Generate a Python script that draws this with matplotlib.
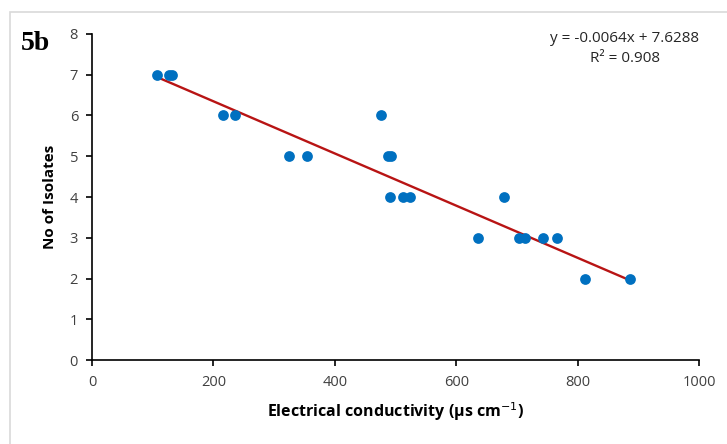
import numpy as np
import matplotlib.pyplot as plt
from matplotlib.patches import Rectangle

# values
conductivity = [107, 127, 132, 216, 236, 325, 354, 476, 488, 493, 491, 512, 524, 679,
                636, 703, 713, 743, 766, 812, 886]
isolates = [7, 7, 7, 6, 6, 5, 5, 6, 5, 5, 4, 4, 4, 4,
            3, 3, 3, 3, 3, 2, 2]
slope = -0.0064
intercept = 7.6288
r2 = 0.908

x_ticks = [0, 200, 400, 600, 800, 1000]
y_ticks = [0, 1, 2, 3, 4, 5, 6, 7, 8]

plt.rcParams['font.family'] = ['Open Sans', 'DejaVu Sans']

fig = plt.figure(figsize=(7.27, 4.44), dpi=100)
ax = fig.add_axes([0.1265, 0.189, 0.835, 0.7345])

# light frame round the whole chart
fig.patches.append(Rectangle((10 / 727, -0.01), 1.0, 1 - 12 / 444 + 0.01, transform=fig.transFigure,
                             fill=False, edgecolor='#d9d9d9', linewidth=1.2))

ax.scatter(conductivity, isolates, s=60, color='#0070c0', zorder=3, linewidths=0)

xs = np.array([min(conductivity), max(conductivity)])
ax.plot(xs, slope * xs + intercept, color='#b81414', linewidth=1.7, zorder=2)

ax.set_xlim(0, 1000)
ax.set_ylim(0, 8)
ax.set_xticks(x_ticks)
ax.set_yticks(y_ticks)
ax.tick_params(axis='both', direction='out', length=4, width=1.2, labelsize=10.5,
               labelcolor='#404040', color='black')
ax.tick_params(axis='x', pad=7)
ax.tick_params(axis='y', pad=6)

for side in ['top', 'right']:
  ax.spines[side].set_visible(False)
for side in ['left', 'bottom']:
  ax.spines[side].set_linewidth(1.2)

ax.set_xlabel('Electrical conductivity (µs cm$^{-1}$)', fontsize=11.5, fontweight='bold', labelpad=7)
ax.set_ylabel('No of Isolates', fontsize=11, fontweight='bold', labelpad=9)

ax.text(0.878, 0.955, f"y = {slope}x + {intercept}\nR² = {r2}", transform=ax.transAxes,
        ha='center', va='center', fontsize=11, color='#262626', linespacing=1.45)

fig.text(21 / 727, 1 - 50 / 444, '5b', family='Liberation Serif', fontweight='bold', fontsize=20)

fig.savefig('out.png', dpi=100)
